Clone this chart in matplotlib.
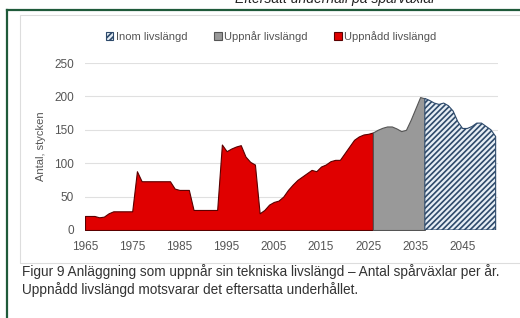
import matplotlib.pyplot as plt
from matplotlib.patches import Rectangle
from matplotlib.lines import Line2D

# Uppnådd livslängd (red), 1965-2026
red_years = list(range(1965, 2027))
red_vals = [21, 21, 21, 19, 20, 25, 28, 28, 28, 28, 28, 88, 73, 73, 73, 73, 73, 73, 73, 62,
            60, 60, 60, 30, 30, 30, 30, 30, 30, 128, 118, 122, 125, 127, 110, 102, 98, 25, 30, 38,
            42, 44, 50, 60, 68, 75, 80, 85, 90, 88, 95, 98, 103, 105, 105, 115, 125, 135, 140, 143,
            144, 146]

# Uppnår livslängd (gray), 2026-2037
gray_years = list(range(2026, 2038))
gray_vals = [146, 150, 153, 155, 155, 152, 148, 150, 165, 182, 199, 197]

# Inom livslängd (hatched), 2037-2052
blue_years = list(range(2037, 2053))
blue_vals = [197, 194, 190, 188, 190, 186, 178, 162, 152, 152, 155, 160, 160, 155, 150, 140]

yticks = [0, 50, 100, 150, 200, 250]
xticks = [1965, 1975, 1985, 1995, 2005, 2015, 2025, 2035, 2045]

plt.rcParams['font.family'] = 'Liberation Sans'
plt.rcParams['hatch.color'] = '#2e4a6b'
plt.rcParams['hatch.linewidth'] = 1.2

fig = plt.figure(figsize=(5.2, 3.18), dpi=100)
W, H = 520, 318

# document heading, cut at top like in the page screenshot
fig.text(335 / W, 1 - 3 / H, 'Eftersatt underhåll på spårväxlar', ha='center', va='baseline',
         fontsize=10, style='italic', color='#222222')

# green frame
fig.add_artist(Line2D([7 / W, 7 / W], [0, 1 - 10 / H], color='#1f5a3a', lw=1.6))
fig.add_artist(Line2D([7 / W, 1], [1 - 10 / H, 1 - 10 / H], color='#1f5a3a', lw=1.6))
# light chart box
fig.add_artist(Rectangle((20 / W, 1 - 263 / H), 1.2, 248 / H, fill=False,
                         edgecolor='#dddddd', lw=0.8))

ax = fig.add_axes([85 / W, 1 - 230 / H, (498 - 85) / W, (230 - 63) / H])
ax.fill_between(red_years, red_vals, color='#e00000', edgecolor='#5a0000', lw=0.8,
                label='Uppnådd livslängd', zorder=3)
ax.fill_between(gray_years, gray_vals, color='#999999', edgecolor='#555555', lw=0.8,
                label='Uppnår livslängd', zorder=3)
ax.fill_between(blue_years, blue_vals, facecolor='#e6eef5', edgecolor='#2e4a6b', lw=0.8,
                hatch='//////', label='Inom livslängd', zorder=3)

ax.set_xlim(1965, 2052.5)
ax.set_ylim(0, 250)
ax.set_xticks(xticks)
ax.set_yticks(yticks)
ax.tick_params(length=0, labelsize=8.5, colors='#555555', pad=8)
ax.grid(axis='y', color='#e0e0e0', lw=0.8, zorder=0)
for s in ['top', 'right', 'left', 'bottom']:
    ax.spines[s].set_visible(False)
ax.set_ylabel('Antal, stycken', fontsize=8, color='#555555', labelpad=6)

h, l = ax.get_legend_handles_labels()
ax.legend(h[::-1], l[::-1], loc='center', bbox_to_anchor=(0.45, 1.16), ncol=3,
          fontsize=8, frameon=False, handlelength=0.7, handleheight=0.7,
          handletextpad=0.2, columnspacing=2.4, labelcolor='#555555')

fig.text(22 / W, 1 - 272 / H,
         'Figur 9 Anläggning som uppnår sin tekniska livslängd \u2013 Antal spårväxlar per år.',
         fontsize=9.8, color='#333333', va='center')
fig.text(22 / W, 1 - 290 / H, 'Uppnådd livslängd motsvarar det eftersatta underhållet.',
         fontsize=9.8, color='#333333', va='center')

fig.savefig('out.png', dpi=100)
